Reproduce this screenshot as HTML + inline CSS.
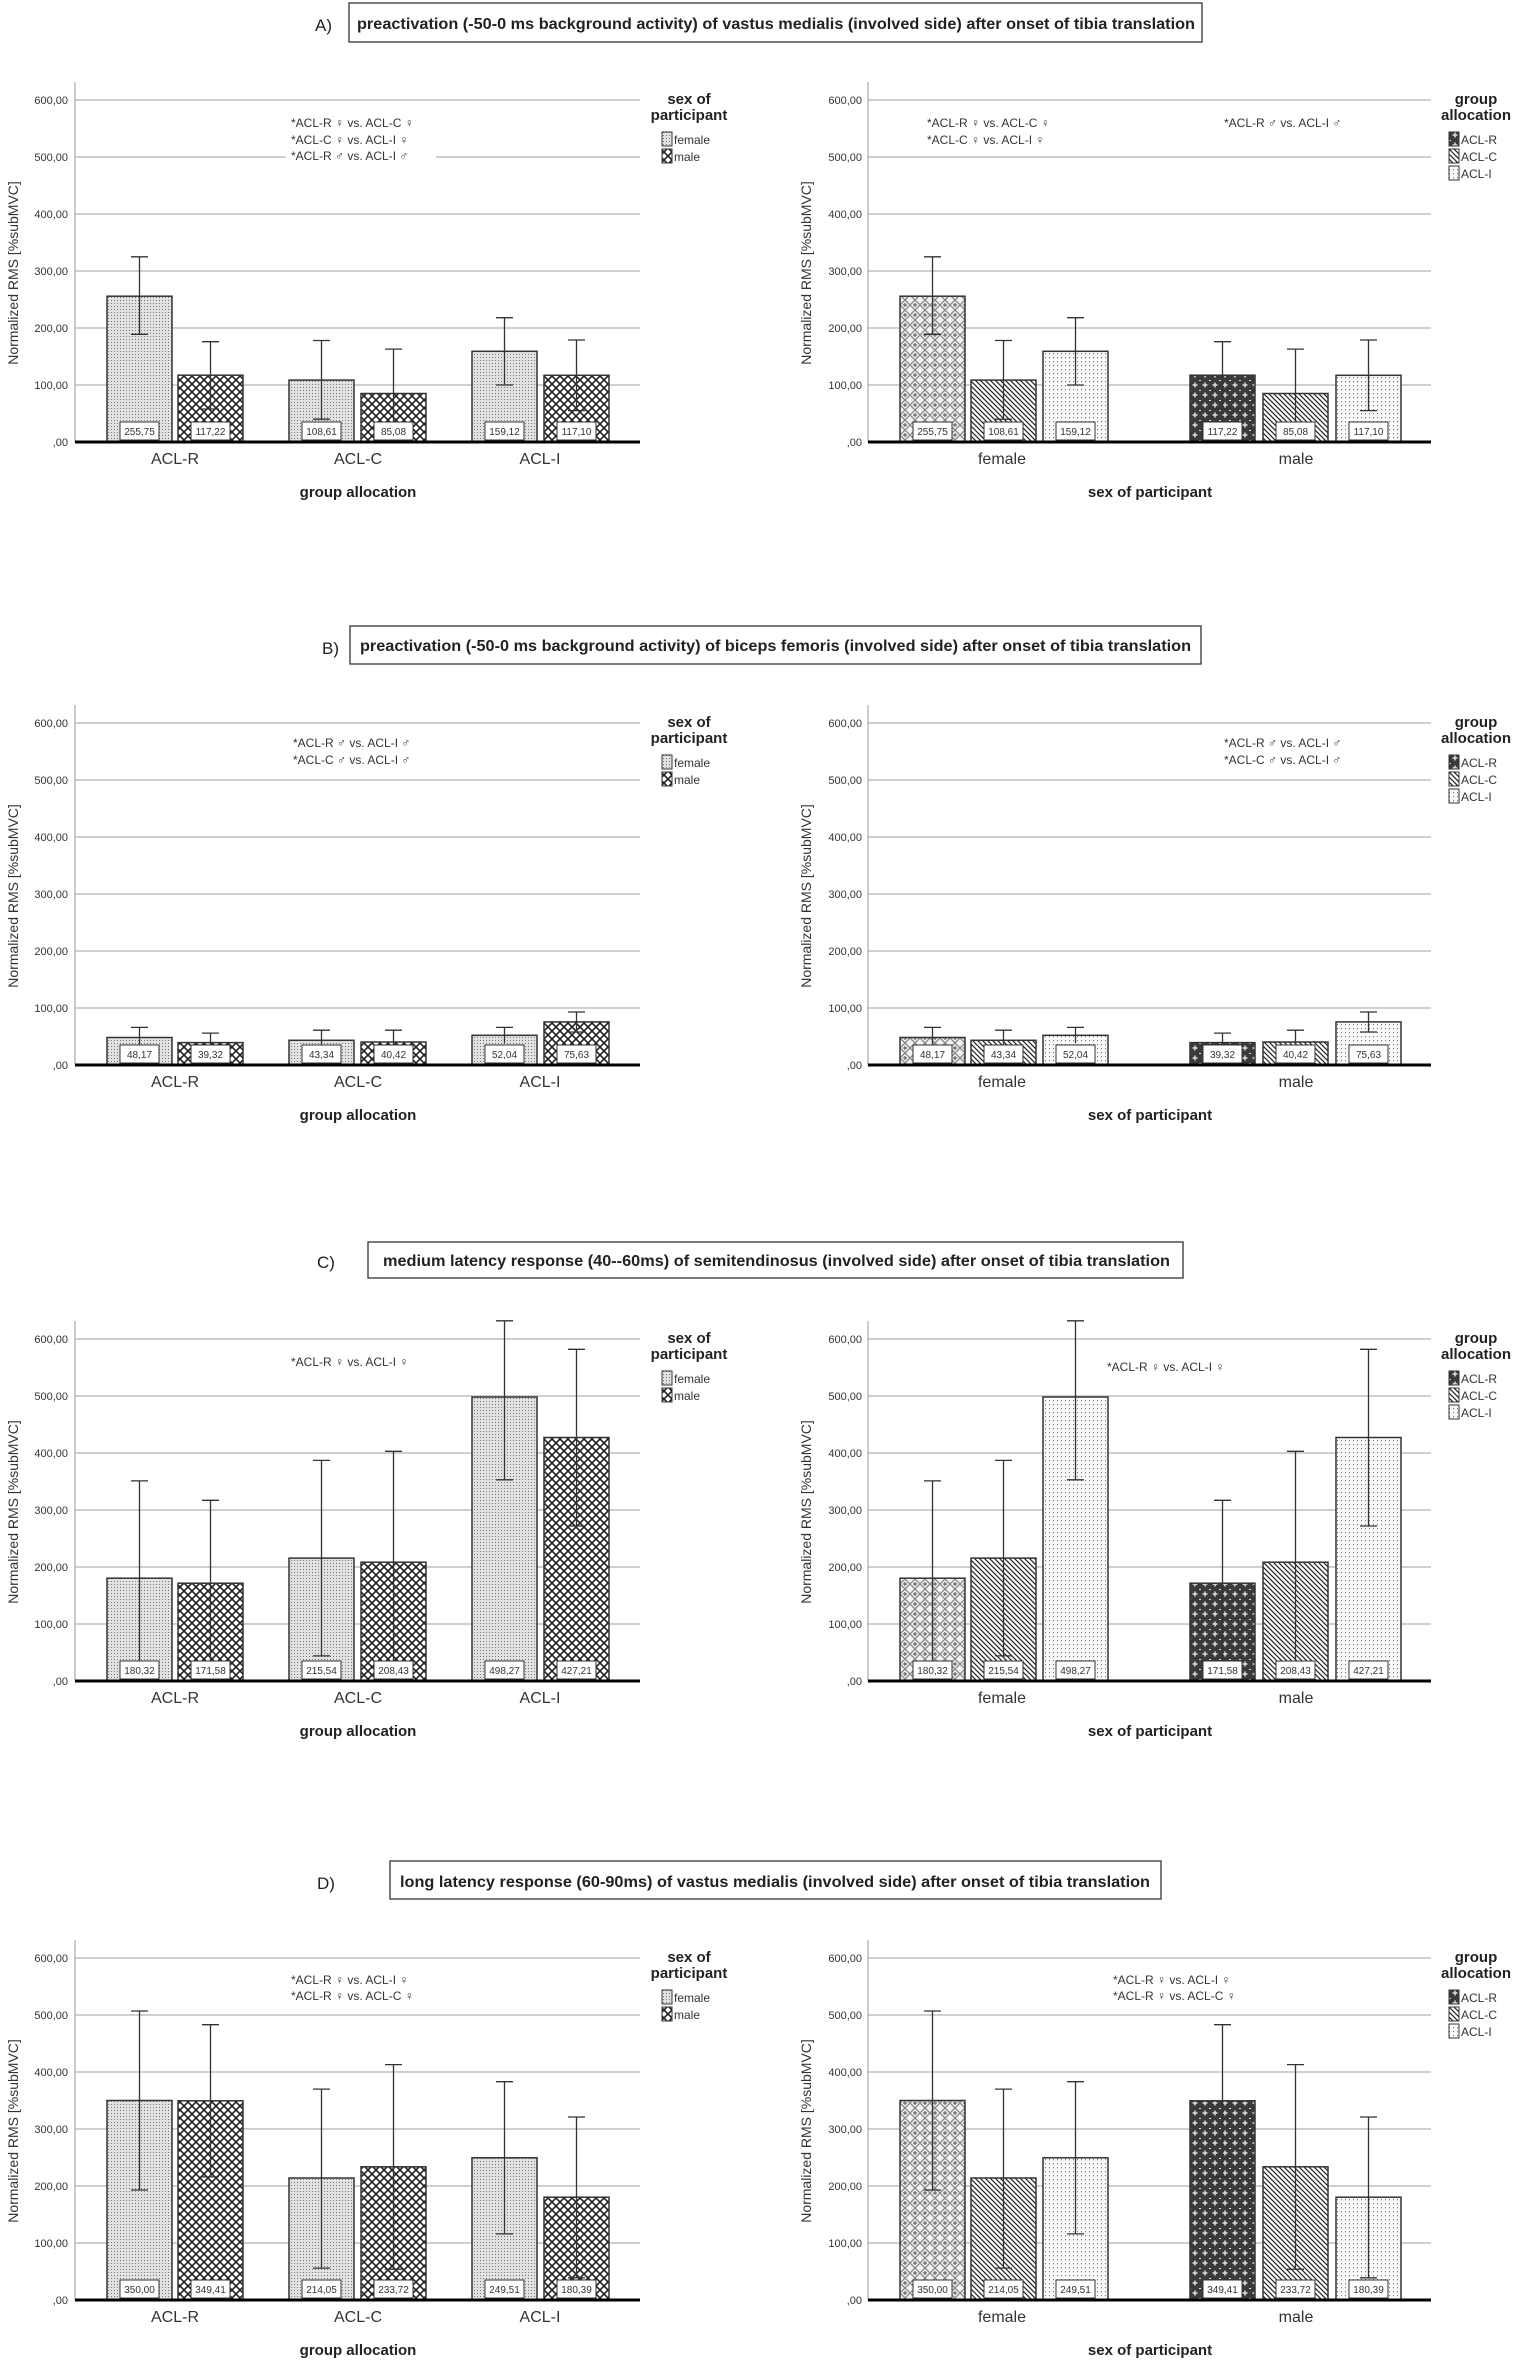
<!DOCTYPE html>
<html><head><meta charset="utf-8"><style>
html,body{margin:0;padding:0;background:#fff}
svg{display:block}
text{font-family:"Liberation Sans",sans-serif;fill:#222}
.tk{font-size:11px;text-anchor:end;fill:#333}
.cat{font-size:16px;text-anchor:middle;fill:#333}
.at{font-size:15px;font-weight:bold;text-anchor:middle}
.yt{font-size:14px;text-anchor:middle;fill:#333}
.lt{font-size:15px;font-weight:bold;text-anchor:middle}
.li{font-size:12px;fill:#333}
.an{font-size:12px;fill:#333;font-family:"Liberation Sans","DejaVu Sans",sans-serif}
.vl{font-size:10px;text-anchor:middle;fill:#333}
.ti{font-size:16px;font-weight:bold}
.pl{font-size:17px}
.eb{stroke:#333;stroke-width:1.3;fill:none}
.bx{fill:#fff;stroke:#333;stroke-width:1}
.br{stroke:#333;stroke-width:1.5}
</style></head><body>
<svg width="1522" height="2362" viewBox="0 0 1522 2362" xmlns="http://www.w3.org/2000/svg">
<defs>
<pattern id="fst" width="3" height="3" patternUnits="userSpaceOnUse"><rect width="3" height="3" fill="#e2e2e2"/><rect width="1" height="1" fill="#777"/></pattern>
<pattern id="xh" width="8" height="8" patternUnits="userSpaceOnUse"><rect width="8" height="8" fill="#fff"/><path d="M0,0L8,8M8,0L0,8" stroke="#222" stroke-width="1.6"/></pattern>
<pattern id="plF" width="10" height="10" patternUnits="userSpaceOnUse"><rect width="10" height="10" fill="#f2f2f2"/><path d="M0,5L5,0L10,5L5,10Z" stroke="#888" stroke-width="1.3" fill="none"/><path d="M5,3V7M3,5H7" stroke="#666" stroke-width="1.2"/></pattern>
<pattern id="plM" width="10" height="10" patternUnits="userSpaceOnUse"><rect width="10" height="10" fill="#3a3a3a"/><path d="M5,2.5V7.5M2.5,5H7.5" stroke="#ddd" stroke-width="1.5"/><path d="M0,0.5H1M9,0.5H10" stroke="#ddd" stroke-width="1"/></pattern>
<pattern id="dg" width="5" height="5" patternUnits="userSpaceOnUse"><rect width="5" height="5" fill="#fff"/><path d="M0,0L5,5M-1,4L1,6M4,-1L6,1" stroke="#222" stroke-width="1.2"/></pattern>
<pattern id="dt" width="4" height="4" patternUnits="userSpaceOnUse"><rect width="4" height="4" fill="#fafafa"/><rect x="1" y="1" width="1" height="1.2" fill="#777"/></pattern>
<g id="frL">
<path d="M75,385H640M75,328H640M75,271H640M75,214H640M75,157H640M75,100H640" stroke="#cfcfcf" stroke-width="2"/>
<path d="M75,82V442" stroke="#999" stroke-width="1"/>
</g>
<g id="frR">
<path d="M868,385H1431M868,328H1431M868,271H1431M868,214H1431M868,157H1431M868,100H1431" stroke="#cfcfcf" stroke-width="2"/>
<path d="M868,82V442" stroke="#999" stroke-width="1"/>
</g>
<path id="zl" d="M75,442H640M868,442H1431" stroke="#000" stroke-width="3"/>
</defs>

<!-- ================= PANEL A ================= -->
<g transform="translate(0,0)">
<text class="pl" x="315" y="31">A)</text>
<rect x="349" y="3" width="853" height="39" fill="#fff" stroke="#333" stroke-width="1.3"/>
<text class="ti" x="357" y="29" textLength="838" lengthAdjust="spacingAndGlyphs">preactivation (-50-0 ms background activity) of vastus medialis (involved side) after onset of tibia translation</text>
<use href="#frL"/><use href="#frR"/>
<!-- left bars -->
<rect class="br" x="107" y="296.2" width="65" height="145.8" fill="url(#fst)"/>
<rect class="br" x="178" y="375.2" width="65" height="66.8" fill="url(#xh)"/>
<rect class="br" x="289" y="380.1" width="65" height="61.9" fill="url(#fst)"/>
<rect class="br" x="361" y="393.5" width="65" height="48.5" fill="url(#xh)"/>
<rect class="br" x="472" y="351.3" width="65" height="90.7" fill="url(#fst)"/>
<rect class="br" x="544" y="375.3" width="65" height="66.7" fill="url(#xh)"/>
<path class="eb" d="M139.5,256.8V334.3M131,256.8h17M131,334.3h17 M210.5,341.7V409M202,341.7h17M202,409h17 M321.5,340.5V419.2M313,340.5h17M313,419.2h17 M393.5,349.1V437.4M385,349.1h17M385,437.4h17 M504.5,317.7V385M496,317.7h17M496,385h17 M576.5,340V410.6M568,340h17M568,410.6h17"/>
<!-- right bars -->
<rect class="br" x="900" y="296.2" width="65" height="145.8" fill="url(#plF)"/>
<rect class="br" x="971" y="380.1" width="65" height="61.9" fill="url(#dg)"/>
<rect class="br" x="1043" y="351.3" width="65" height="90.7" fill="url(#dt)"/>
<rect class="br" x="1190" y="375.2" width="65" height="66.8" fill="url(#plM)"/>
<rect class="br" x="1263" y="393.5" width="65" height="48.5" fill="url(#dg)"/>
<rect class="br" x="1336" y="375.3" width="65" height="66.7" fill="url(#dt)"/>
<path class="eb" d="M932.5,256.8V334.3M924,256.8h17M924,334.3h17 M1003.5,340.5V419.2M995,340.5h17M995,419.2h17 M1075.5,317.7V385M1067,317.7h17M1067,385h17 M1222.5,341.7V409M1214,341.7h17M1214,409h17 M1295.5,349.1V437.4M1287,349.1h17M1287,437.4h17 M1368.5,340V410.6M1360,340h17M1360,410.6h17"/>
<!-- value labels -->
<g>
<rect class="bx" x="120" y="422" width="39" height="18"/><text class="vl" x="139.5" y="435">255,75</text>
<rect class="bx" x="191" y="422" width="39" height="18"/><text class="vl" x="210.5" y="435">117,22</text>
<rect class="bx" x="302" y="422" width="39" height="18"/><text class="vl" x="321.5" y="435">108,61</text>
<rect class="bx" x="374" y="422" width="39" height="18"/><text class="vl" x="393.5" y="435">85,08</text>
<rect class="bx" x="485" y="422" width="39" height="18"/><text class="vl" x="504.5" y="435">159,12</text>
<rect class="bx" x="557" y="422" width="39" height="18"/><text class="vl" x="576.5" y="435">117,10</text>
<rect class="bx" x="913" y="422" width="39" height="18"/><text class="vl" x="932.5" y="435">255,75</text>
<rect class="bx" x="984" y="422" width="39" height="18"/><text class="vl" x="1003.5" y="435">108,61</text>
<rect class="bx" x="1056" y="422" width="39" height="18"/><text class="vl" x="1075.5" y="435">159,12</text>
<rect class="bx" x="1203" y="422" width="39" height="18"/><text class="vl" x="1222.5" y="435">117,22</text>
<rect class="bx" x="1276" y="422" width="39" height="18"/><text class="vl" x="1295.5" y="435">85,08</text>
<rect class="bx" x="1349" y="422" width="39" height="18"/><text class="vl" x="1368.5" y="435">117,10</text>
</g>
<use href="#zl"/>
<!-- ticks -->
<text class="tk" x="68" y="104">600,00</text><text class="tk" x="68" y="161">500,00</text><text class="tk" x="68" y="218">400,00</text><text class="tk" x="68" y="275">300,00</text><text class="tk" x="68" y="332">200,00</text><text class="tk" x="68" y="389">100,00</text><text class="tk" x="68" y="446">,00</text>
<text class="tk" x="862" y="104">600,00</text><text class="tk" x="862" y="161">500,00</text><text class="tk" x="862" y="218">400,00</text><text class="tk" x="862" y="275">300,00</text><text class="tk" x="862" y="332">200,00</text><text class="tk" x="862" y="389">100,00</text><text class="tk" x="862" y="446">,00</text>
<text class="yt" transform="translate(18,273) rotate(-90)">Normalized RMS [%subMVC]</text>
<text class="yt" transform="translate(811,273) rotate(-90)">Normalized RMS [%subMVC]</text>
<text class="cat" x="175" y="464">ACL-R</text><text class="cat" x="358" y="464">ACL-C</text><text class="cat" x="540" y="464">ACL-I</text>
<text class="cat" x="1002" y="464">female</text><text class="cat" x="1296" y="464">male</text>
<text class="at" x="358" y="497">group allocation</text><text class="at" x="1150" y="497">sex of participant</text>
<!-- legends -->
<text class="lt" x="689" y="104">sex of</text><text class="lt" x="689" y="120">participant</text>
<rect x="662" y="132" width="10" height="14" fill="url(#fst)" stroke="#333"/><text class="li" x="674" y="144">female</text>
<rect x="662" y="149" width="10" height="14" fill="url(#xh)" stroke="#333"/><text class="li" x="674" y="161">male</text>
<text class="lt" x="1476" y="104">group</text><text class="lt" x="1476" y="120">allocation</text>
<rect x="1449" y="132" width="10" height="14" fill="url(#plM)" stroke="#333"/><text class="li" x="1461" y="144">ACL-R</text>
<rect x="1449" y="149" width="10" height="14" fill="url(#dg)" stroke="#333"/><text class="li" x="1461" y="161">ACL-C</text>
<rect x="1449" y="166" width="10" height="14" fill="url(#dt)" stroke="#333"/><text class="li" x="1461" y="178">ACL-I</text>
<!-- annotations -->
<rect x="286" y="150" width="150" height="14" fill="#fff"/>
<text class="an" x="291" y="127">*ACL-R ♀ vs. ACL-C ♀</text>
<text class="an" x="291" y="144">*ACL-C ♀ vs. ACL-I ♀</text>
<text class="an" x="291" y="160">*ACL-R ♂ vs. ACL-I ♂</text>
<text class="an" x="927" y="127">*ACL-R ♀ vs. ACL-C ♀</text>
<text class="an" x="927" y="144">*ACL-C ♀ vs. ACL-I ♀</text>
<text class="an" x="1224" y="127">*ACL-R ♂ vs. ACL-I ♂</text>
</g>

<!-- ================= PANEL B ================= -->
<g transform="translate(0,623)">
<text class="pl" x="322" y="31">B)</text>
<rect x="350" y="3" width="851" height="38" fill="#fff" stroke="#333" stroke-width="1.3"/>
<text class="ti" x="360" y="28" textLength="831" lengthAdjust="spacingAndGlyphs">preactivation (-50-0 ms background activity) of biceps femoris (involved side) after onset of tibia translation</text>
<use href="#frL"/><use href="#frR"/>
<rect class="br" x="107" y="414.5" width="65" height="27.5" fill="url(#fst)"/>
<rect class="br" x="178" y="419.6" width="65" height="22.4" fill="url(#xh)"/>
<rect class="br" x="289" y="417.3" width="65" height="24.7" fill="url(#fst)"/>
<rect class="br" x="361" y="419" width="65" height="23" fill="url(#xh)"/>
<rect class="br" x="472" y="412.3" width="65" height="29.7" fill="url(#fst)"/>
<rect class="br" x="544" y="398.9" width="65" height="43.1" fill="url(#xh)"/>
<path class="eb" d="M139.5,404.4V424.9M131,404.4h17 M210.5,410.1V429.5M202,410.1h17 M321.5,407.2V427.7M313,407.2h17 M393.5,407.2V431.2M385,407.2h17 M504.5,404.4V420.3M496,404.4h17 M576.5,389V409M568,389h17M568,409h17"/>
<rect class="br" x="900" y="414.5" width="65" height="27.5" fill="url(#plF)"/>
<rect class="br" x="971" y="417.3" width="65" height="24.7" fill="url(#dg)"/>
<rect class="br" x="1043" y="412.3" width="65" height="29.7" fill="url(#dt)"/>
<rect class="br" x="1190" y="419.6" width="65" height="22.4" fill="url(#plM)"/>
<rect class="br" x="1263" y="419" width="65" height="23" fill="url(#dg)"/>
<rect class="br" x="1336" y="398.9" width="65" height="43.1" fill="url(#dt)"/>
<path class="eb" d="M932.5,404.4V424.9M924,404.4h17 M1003.5,407.2V427.7M995,407.2h17 M1075.5,404.4V420.3M1067,404.4h17 M1222.5,410.1V429.5M1214,410.1h17 M1295.5,407.2V431.2M1287,407.2h17 M1368.5,389V409M1360,389h17M1360,409h17"/>
<g>
<rect class="bx" x="120" y="422" width="39" height="18"/><text class="vl" x="139.5" y="435">48,17</text>
<rect class="bx" x="191" y="422" width="39" height="18"/><text class="vl" x="210.5" y="435">39,32</text>
<rect class="bx" x="302" y="422" width="39" height="18"/><text class="vl" x="321.5" y="435">43,34</text>
<rect class="bx" x="374" y="422" width="39" height="18"/><text class="vl" x="393.5" y="435">40,42</text>
<rect class="bx" x="485" y="422" width="39" height="18"/><text class="vl" x="504.5" y="435">52,04</text>
<rect class="bx" x="557" y="422" width="39" height="18"/><text class="vl" x="576.5" y="435">75,63</text>
<rect class="bx" x="913" y="422" width="39" height="18"/><text class="vl" x="932.5" y="435">48,17</text>
<rect class="bx" x="984" y="422" width="39" height="18"/><text class="vl" x="1003.5" y="435">43,34</text>
<rect class="bx" x="1056" y="422" width="39" height="18"/><text class="vl" x="1075.5" y="435">52,04</text>
<rect class="bx" x="1203" y="422" width="39" height="18"/><text class="vl" x="1222.5" y="435">39,32</text>
<rect class="bx" x="1276" y="422" width="39" height="18"/><text class="vl" x="1295.5" y="435">40,42</text>
<rect class="bx" x="1349" y="422" width="39" height="18"/><text class="vl" x="1368.5" y="435">75,63</text>
</g>
<use href="#zl"/>
<text class="tk" x="68" y="104">600,00</text><text class="tk" x="68" y="161">500,00</text><text class="tk" x="68" y="218">400,00</text><text class="tk" x="68" y="275">300,00</text><text class="tk" x="68" y="332">200,00</text><text class="tk" x="68" y="389">100,00</text><text class="tk" x="68" y="446">,00</text>
<text class="tk" x="862" y="104">600,00</text><text class="tk" x="862" y="161">500,00</text><text class="tk" x="862" y="218">400,00</text><text class="tk" x="862" y="275">300,00</text><text class="tk" x="862" y="332">200,00</text><text class="tk" x="862" y="389">100,00</text><text class="tk" x="862" y="446">,00</text>
<text class="yt" transform="translate(18,273) rotate(-90)">Normalized RMS [%subMVC]</text>
<text class="yt" transform="translate(811,273) rotate(-90)">Normalized RMS [%subMVC]</text>
<text class="cat" x="175" y="464">ACL-R</text><text class="cat" x="358" y="464">ACL-C</text><text class="cat" x="540" y="464">ACL-I</text>
<text class="cat" x="1002" y="464">female</text><text class="cat" x="1296" y="464">male</text>
<text class="at" x="358" y="497">group allocation</text><text class="at" x="1150" y="497">sex of participant</text>
<text class="lt" x="689" y="104">sex of</text><text class="lt" x="689" y="120">participant</text>
<rect x="662" y="132" width="10" height="14" fill="url(#fst)" stroke="#333"/><text class="li" x="674" y="144">female</text>
<rect x="662" y="149" width="10" height="14" fill="url(#xh)" stroke="#333"/><text class="li" x="674" y="161">male</text>
<text class="lt" x="1476" y="104">group</text><text class="lt" x="1476" y="120">allocation</text>
<rect x="1449" y="132" width="10" height="14" fill="url(#plM)" stroke="#333"/><text class="li" x="1461" y="144">ACL-R</text>
<rect x="1449" y="149" width="10" height="14" fill="url(#dg)" stroke="#333"/><text class="li" x="1461" y="161">ACL-C</text>
<rect x="1449" y="166" width="10" height="14" fill="url(#dt)" stroke="#333"/><text class="li" x="1461" y="178">ACL-I</text>
<text class="an" x="293" y="124">*ACL-R ♂ vs. ACL-I ♂</text>
<text class="an" x="293" y="141">*ACL-C ♂ vs. ACL-I ♂</text>
<text class="an" x="1224" y="124">*ACL-R ♂ vs. ACL-I ♂</text>
<text class="an" x="1224" y="141">*ACL-C ♂ vs. ACL-I ♂</text>
</g>

<!-- ================= PANEL C ================= -->
<g transform="translate(0,1239)">
<text class="pl" x="317" y="29">C)</text>
<rect x="368" y="3" width="815" height="36" fill="#fff" stroke="#333" stroke-width="1.3"/>
<text class="ti" x="383" y="27" textLength="787" lengthAdjust="spacingAndGlyphs">medium latency response (40--60ms) of semitendinosus (involved side) after onset of tibia translation</text>
<use href="#frL"/><use href="#frR"/>
<rect class="br" x="107" y="339.2" width="65" height="102.8" fill="url(#fst)"/>
<rect class="br" x="178" y="344.2" width="65" height="97.8" fill="url(#xh)"/>
<rect class="br" x="289" y="319.1" width="65" height="122.9" fill="url(#fst)"/>
<rect class="br" x="361" y="323.2" width="65" height="118.8" fill="url(#xh)"/>
<rect class="br" x="472" y="158" width="65" height="284" fill="url(#fst)"/>
<rect class="br" x="544" y="198.5" width="65" height="243.5" fill="url(#xh)"/>
<path class="eb" d="M139.5,241.9V436.3M131,241.9h17M131,436.3h17 M210.5,261.3V427.2M202,261.3h17M202,427.2h17 M321.5,221.4V416.9M313,221.4h17M313,416.9h17 M393.5,212.3V434M385,212.3h17M385,434h17 M504.5,81.8V240.8M496,81.8h17M496,240.8h17 M576.5,110.3V287M568,110.3h17M568,287h17"/>
<rect class="br" x="900" y="339.2" width="65" height="102.8" fill="url(#plF)"/>
<rect class="br" x="971" y="319.1" width="65" height="122.9" fill="url(#dg)"/>
<rect class="br" x="1043" y="158" width="65" height="284" fill="url(#dt)"/>
<rect class="br" x="1190" y="344.2" width="65" height="97.8" fill="url(#plM)"/>
<rect class="br" x="1263" y="323.2" width="65" height="118.8" fill="url(#dg)"/>
<rect class="br" x="1336" y="198.5" width="65" height="243.5" fill="url(#dt)"/>
<path class="eb" d="M932.5,241.9V436.3M924,241.9h17M924,436.3h17 M1003.5,221.4V416.9M995,221.4h17M995,416.9h17 M1075.5,81.8V240.8M1067,81.8h17M1067,240.8h17 M1222.5,261.3V427.2M1214,261.3h17M1214,427.2h17 M1295.5,212.3V434M1287,212.3h17M1287,434h17 M1368.5,110.3V287M1360,110.3h17M1360,287h17"/>
<g>
<rect class="bx" x="120" y="422" width="39" height="18"/><text class="vl" x="139.5" y="435">180,32</text>
<rect class="bx" x="191" y="422" width="39" height="18"/><text class="vl" x="210.5" y="435">171,58</text>
<rect class="bx" x="302" y="422" width="39" height="18"/><text class="vl" x="321.5" y="435">215,54</text>
<rect class="bx" x="374" y="422" width="39" height="18"/><text class="vl" x="393.5" y="435">208,43</text>
<rect class="bx" x="485" y="422" width="39" height="18"/><text class="vl" x="504.5" y="435">498,27</text>
<rect class="bx" x="557" y="422" width="39" height="18"/><text class="vl" x="576.5" y="435">427,21</text>
<rect class="bx" x="913" y="422" width="39" height="18"/><text class="vl" x="932.5" y="435">180,32</text>
<rect class="bx" x="984" y="422" width="39" height="18"/><text class="vl" x="1003.5" y="435">215,54</text>
<rect class="bx" x="1056" y="422" width="39" height="18"/><text class="vl" x="1075.5" y="435">498,27</text>
<rect class="bx" x="1203" y="422" width="39" height="18"/><text class="vl" x="1222.5" y="435">171,58</text>
<rect class="bx" x="1276" y="422" width="39" height="18"/><text class="vl" x="1295.5" y="435">208,43</text>
<rect class="bx" x="1349" y="422" width="39" height="18"/><text class="vl" x="1368.5" y="435">427,21</text>
</g>
<use href="#zl"/>
<text class="tk" x="68" y="104">600,00</text><text class="tk" x="68" y="161">500,00</text><text class="tk" x="68" y="218">400,00</text><text class="tk" x="68" y="275">300,00</text><text class="tk" x="68" y="332">200,00</text><text class="tk" x="68" y="389">100,00</text><text class="tk" x="68" y="446">,00</text>
<text class="tk" x="862" y="104">600,00</text><text class="tk" x="862" y="161">500,00</text><text class="tk" x="862" y="218">400,00</text><text class="tk" x="862" y="275">300,00</text><text class="tk" x="862" y="332">200,00</text><text class="tk" x="862" y="389">100,00</text><text class="tk" x="862" y="446">,00</text>
<text class="yt" transform="translate(18,273) rotate(-90)">Normalized RMS [%subMVC]</text>
<text class="yt" transform="translate(811,273) rotate(-90)">Normalized RMS [%subMVC]</text>
<text class="cat" x="175" y="464">ACL-R</text><text class="cat" x="358" y="464">ACL-C</text><text class="cat" x="540" y="464">ACL-I</text>
<text class="cat" x="1002" y="464">female</text><text class="cat" x="1296" y="464">male</text>
<text class="at" x="358" y="497">group allocation</text><text class="at" x="1150" y="497">sex of participant</text>
<text class="lt" x="689" y="104">sex of</text><text class="lt" x="689" y="120">participant</text>
<rect x="662" y="132" width="10" height="14" fill="url(#fst)" stroke="#333"/><text class="li" x="674" y="144">female</text>
<rect x="662" y="149" width="10" height="14" fill="url(#xh)" stroke="#333"/><text class="li" x="674" y="161">male</text>
<text class="lt" x="1476" y="104">group</text><text class="lt" x="1476" y="120">allocation</text>
<rect x="1449" y="132" width="10" height="14" fill="url(#plM)" stroke="#333"/><text class="li" x="1461" y="144">ACL-R</text>
<rect x="1449" y="149" width="10" height="14" fill="url(#dg)" stroke="#333"/><text class="li" x="1461" y="161">ACL-C</text>
<rect x="1449" y="166" width="10" height="14" fill="url(#dt)" stroke="#333"/><text class="li" x="1461" y="178">ACL-I</text>
<text class="an" x="291" y="127">*ACL-R ♀ vs. ACL-I ♀</text>
<text class="an" x="1107" y="132">*ACL-R ♀ vs. ACL-I ♀</text>
</g>

<!-- ================= PANEL D ================= -->
<g transform="translate(0,1858)">
<text class="pl" x="317" y="31">D)</text>
<rect x="390" y="3" width="771" height="38" fill="#fff" stroke="#333" stroke-width="1.3"/>
<text class="ti" x="400" y="29" textLength="750" lengthAdjust="spacingAndGlyphs">long latency response (60-90ms) of vastus medialis (involved side) after onset of tibia translation</text>
<use href="#frL"/><use href="#frR"/>
<rect class="br" x="107" y="242.5" width="65" height="199.5" fill="url(#fst)"/>
<rect class="br" x="178" y="242.8" width="65" height="199.2" fill="url(#xh)"/>
<rect class="br" x="289" y="320" width="65" height="122" fill="url(#fst)"/>
<rect class="br" x="361" y="308.8" width="65" height="133.2" fill="url(#xh)"/>
<rect class="br" x="472" y="299.8" width="65" height="142.2" fill="url(#fst)"/>
<rect class="br" x="544" y="339.2" width="65" height="102.8" fill="url(#xh)"/>
<path class="eb" d="M139.5,153V332M131,153h17M131,332h17 M210.5,166.7V318.9M202,166.7h17M202,318.9h17 M321.5,231.1V410.1M313,231.1h17M313,410.1h17 M393.5,206.6V411.2M385,206.6h17M385,411.2h17 M504.5,223.7V375.9M496,223.7h17M496,375.9h17 M576.5,259V419.8M568,259h17M568,419.8h17"/>
<rect class="br" x="900" y="242.5" width="65" height="199.5" fill="url(#plF)"/>
<rect class="br" x="971" y="320" width="65" height="122" fill="url(#dg)"/>
<rect class="br" x="1043" y="299.8" width="65" height="142.2" fill="url(#dt)"/>
<rect class="br" x="1190" y="242.8" width="65" height="199.2" fill="url(#plM)"/>
<rect class="br" x="1263" y="308.8" width="65" height="133.2" fill="url(#dg)"/>
<rect class="br" x="1336" y="339.2" width="65" height="102.8" fill="url(#dt)"/>
<path class="eb" d="M932.5,153V332M924,153h17M924,332h17 M1003.5,231.1V410.1M995,231.1h17M995,410.1h17 M1075.5,223.7V375.9M1067,223.7h17M1067,375.9h17 M1222.5,166.7V318.9M1214,166.7h17M1214,318.9h17 M1295.5,206.6V411.2M1287,206.6h17M1287,411.2h17 M1368.5,259V419.8M1360,259h17M1360,419.8h17"/>
<g>
<rect class="bx" x="120" y="422" width="39" height="18"/><text class="vl" x="139.5" y="435">350,00</text>
<rect class="bx" x="191" y="422" width="39" height="18"/><text class="vl" x="210.5" y="435">349,41</text>
<rect class="bx" x="302" y="422" width="39" height="18"/><text class="vl" x="321.5" y="435">214,05</text>
<rect class="bx" x="374" y="422" width="39" height="18"/><text class="vl" x="393.5" y="435">233,72</text>
<rect class="bx" x="485" y="422" width="39" height="18"/><text class="vl" x="504.5" y="435">249,51</text>
<rect class="bx" x="557" y="422" width="39" height="18"/><text class="vl" x="576.5" y="435">180,39</text>
<rect class="bx" x="913" y="422" width="39" height="18"/><text class="vl" x="932.5" y="435">350,00</text>
<rect class="bx" x="984" y="422" width="39" height="18"/><text class="vl" x="1003.5" y="435">214,05</text>
<rect class="bx" x="1056" y="422" width="39" height="18"/><text class="vl" x="1075.5" y="435">249,51</text>
<rect class="bx" x="1203" y="422" width="39" height="18"/><text class="vl" x="1222.5" y="435">349,41</text>
<rect class="bx" x="1276" y="422" width="39" height="18"/><text class="vl" x="1295.5" y="435">233,72</text>
<rect class="bx" x="1349" y="422" width="39" height="18"/><text class="vl" x="1368.5" y="435">180,39</text>
</g>
<use href="#zl"/>
<text class="tk" x="68" y="104">600,00</text><text class="tk" x="68" y="161">500,00</text><text class="tk" x="68" y="218">400,00</text><text class="tk" x="68" y="275">300,00</text><text class="tk" x="68" y="332">200,00</text><text class="tk" x="68" y="389">100,00</text><text class="tk" x="68" y="446">,00</text>
<text class="tk" x="862" y="104">600,00</text><text class="tk" x="862" y="161">500,00</text><text class="tk" x="862" y="218">400,00</text><text class="tk" x="862" y="275">300,00</text><text class="tk" x="862" y="332">200,00</text><text class="tk" x="862" y="389">100,00</text><text class="tk" x="862" y="446">,00</text>
<text class="yt" transform="translate(18,273) rotate(-90)">Normalized RMS [%subMVC]</text>
<text class="yt" transform="translate(811,273) rotate(-90)">Normalized RMS [%subMVC]</text>
<text class="cat" x="175" y="464">ACL-R</text><text class="cat" x="358" y="464">ACL-C</text><text class="cat" x="540" y="464">ACL-I</text>
<text class="cat" x="1002" y="464">female</text><text class="cat" x="1296" y="464">male</text>
<text class="at" x="358" y="497">group allocation</text><text class="at" x="1150" y="497">sex of participant</text>
<text class="lt" x="689" y="104">sex of</text><text class="lt" x="689" y="120">participant</text>
<rect x="662" y="132" width="10" height="14" fill="url(#fst)" stroke="#333"/><text class="li" x="674" y="144">female</text>
<rect x="662" y="149" width="10" height="14" fill="url(#xh)" stroke="#333"/><text class="li" x="674" y="161">male</text>
<text class="lt" x="1476" y="104">group</text><text class="lt" x="1476" y="120">allocation</text>
<rect x="1449" y="132" width="10" height="14" fill="url(#plM)" stroke="#333"/><text class="li" x="1461" y="144">ACL-R</text>
<rect x="1449" y="149" width="10" height="14" fill="url(#dg)" stroke="#333"/><text class="li" x="1461" y="161">ACL-C</text>
<rect x="1449" y="166" width="10" height="14" fill="url(#dt)" stroke="#333"/><text class="li" x="1461" y="178">ACL-I</text>
<text class="an" x="291" y="126">*ACL-R ♀ vs. ACL-I ♀</text>
<text class="an" x="291" y="142">*ACL-R ♀ vs. ACL-C ♀</text>
<text class="an" x="1113" y="126">*ACL-R ♀ vs. ACL-I ♀</text>
<text class="an" x="1113" y="142">*ACL-R ♀ vs. ACL-C ♀</text>
</g>
</svg>
</body></html>
